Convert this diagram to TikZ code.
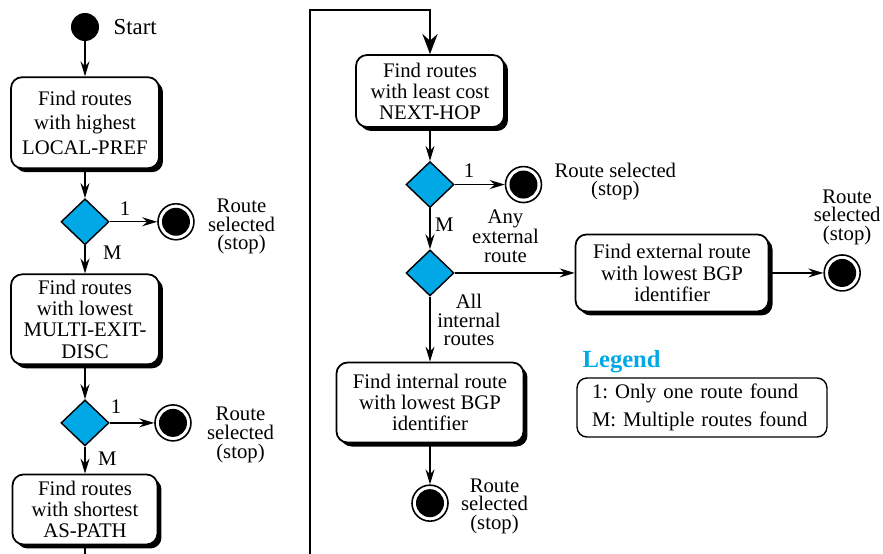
\documentclass[tikz,border=0pt]{standalone}
\usepackage{fontspec}
\setmainfont{Liberation Serif}
\usepackage{tikz}
\usetikzlibrary{arrows.meta,positioning,shapes.geometric,shadows}
\definecolor{cDec}{RGB}{0,169,230}
\frenchspacing

\begin{document}
\begin{tikzpicture}[x=0.02cm,y=-0.02cm,
   b/.style={draw,line width=1pt,rounded corners=2.2mm,fill=white,align=center,inner sep=1pt,
     font=\fontsize{11.8}{12}\selectfont,minimum width=29.6mm,
     drop shadow={shadow xshift=0.8mm,shadow yshift=-0.8mm,fill=black,opacity=1}},
   dec/.style={diamond,draw,line width=0.8pt,fill=cDec,inner sep=0pt,minimum width=9.6mm,minimum height=9.2mm},
   st/.style={circle,fill=black,inner sep=0pt,minimum size=5.6mm},
   fin/.style={circle,draw,line width=0.9pt,fill=white,inner sep=0pt,minimum size=7.2mm,
     path picture={\fill[black] (path picture bounding box.center) circle (2.8mm);}},
   lb/.style={inner sep=0.5pt,font=\fontsize{11.8}{12}\selectfont},
   tx/.style={align=center,inner sep=0pt,font=\fontsize{11.8}{10.6}\selectfont},
   a/.style={-{Stealth[length=3mm,width=1.8mm,inset=1mm]},line width=0.75pt},
   lp/.style={line width=1.6pt}]
  \useasboundingbox (0,0) rectangle (883,554);
  % left column
  \node[st] (s0) at (85,27) {};
  \node[lb,right=2.6mm of s0,font=\fontsize{13}{13}\selectfont] (s0t) {Start};
  \node[b,minimum height=18.2mm,below=7mm of s0] (f1) {Find routes\\[2pt]with highest\\[2pt]LOCAL-PREF};
  \node[dec,below=5.8mm of f1] (q1) {};
  \node[fin,right=9.5mm of q1] (e1) {};
  \node[tx,right=2.6mm of e1,yshift=-1mm] (e1t) {Route\\selected\\(stop)};
  \node[b,minimum height=18mm,below=5.6mm of q1] (f2) {Find routes\\with lowest\\MULTI-EXIT-\\DISC};
  \node[dec,below=6.8mm of f2] (q2) {};
  \node[fin,right=8.9mm of q2] (e2) {};
  \node[tx,right=3mm of e2,yshift=-2.4mm] (e2t) {Route\\selected\\(stop)};
  \node[b,minimum height=14mm,minimum width=29mm,below=5.4mm of q2] (f3) {Find routes\\with shortest\\AS-PATH};
  \node[lb,above right=1mm and 1.8mm of q1.east] (o1) {1};
  \node[lb,below right=-0.2mm and 3.4mm of q1.south] (m1) {M};
  \node[lb,above right=1.6mm and 0mm of q2.east] (o2) {1};
  \node[lb,below right=0.8mm and 2.4mm of q2.south] (m2) {M};
  \draw[a] (s0) -- (f1);
  \draw[a] (f1) -- (q1);
  \draw[a] (q1) -- (e1);
  \draw[a] (q1) -- (f2);
  \draw[a] (f2) -- (q2);
  \draw[a] (q2) -- (e2);
  \draw[a] (q2) -- (f3);
  % right column
  \node[b,minimum height=14.4mm] (f4) at (430,91) {Find routes\\with least cost\\NEXT-HOP};
  \node[dec,below=6.6mm of f4] (q3) {};
  \node[fin,right=10mm of q3] (e3) {};
  \node[tx,right=2.4mm of e3,yshift=0.6mm] (e3t) {Route selected\\(stop)};
  \node[dec,below=8.2mm of q3] (q4) {};
  \node[b,minimum height=15.4mm,minimum width=38.6mm,right=24mm of q4] (f5) {Find external route\\with lowest BGP\\identifier};
  \node[fin,right=10.8mm of f5] (e5) {};
  \node[tx,above=1.8mm of e5,xshift=1mm] (e5t) {Route\\selected\\(stop)};
  \node[b,minimum height=16mm,minimum width=37.4mm,below=13mm of q4] (f6) {Find internal route\\with lowest BGP\\identifier};
  \node[fin,below=8.2mm of f6] (e6) {};
  \node[tx,right=2.4mm of e6,yshift=-0.6mm] (e6t) {Route\\selected\\(stop)};
  \node[lb,above right=1.2mm and 1.6mm of q3.east] (o3) {1};
  \node[lb,below right=1.6mm and 0.8mm of q3.south] (m3) {M};
  \node[tx,above right=2mm and 3.4mm of q4.east] (any) {Any\\external\\route};
  \node[tx,below right=-0.6mm and 1.4mm of q4.south] (all) {All\\internal\\routes};
  \draw[a] (f4) -- (q3);
  \draw[a] (q3) -- (e3);
  \draw[a] (q3) -- (q4);
  \draw[a] (q4) -- (f5);
  \draw[a] (f5) -- (e5);
  \draw[a] (q4) -- (f6);
  \draw[a] (f6) -- (e6);
  % legend
  \node[draw,line width=0.8pt,rounded corners=2mm,minimum width=50mm,minimum height=11.8mm,
    align=left,text width=44mm,inner xsep=3mm,font=\fontsize{11.8}{12}\selectfont] (lg) at (702,407.5)
    {1: Only one route found\\[3.9pt]M: Multiple routes found};
  \node[inner sep=0pt,above right=0.9mm and 1.2mm of lg.north west,text=cDec,
    font=\fontsize{14}{14}\selectfont\bfseries] (lgt) {Legend};
  % page-break connector
  \coordinate (bot) at (0,554);
  \coordinate (c2) at (310,554);
  \coordinate (c3) at (310,10);
  \draw[lp] (f3.south) -- (f3.south |- bot);
  \draw[lp,-{Stealth[length=4mm,width=3mm,inset=1.3mm]}] (c2) -- (c3) -| (f4.north);
\end{tikzpicture}
\end{document}
